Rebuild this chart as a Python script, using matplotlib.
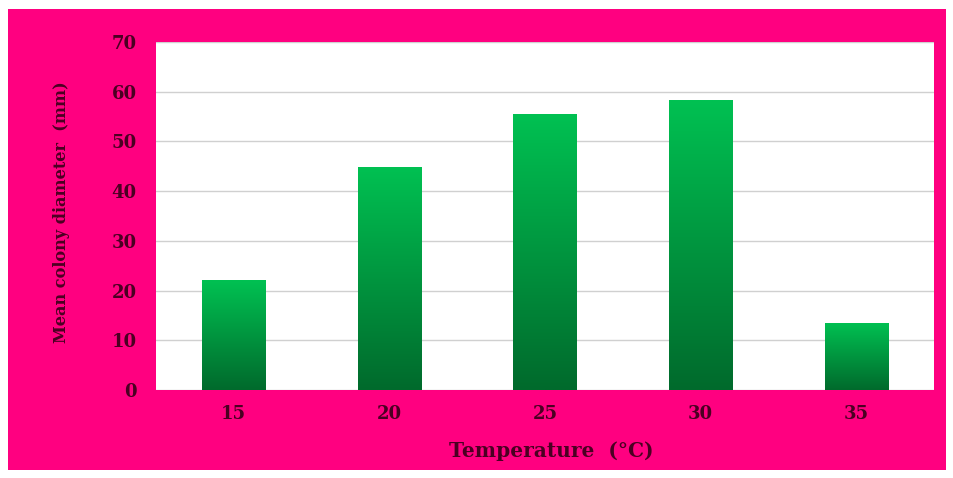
import matplotlib
matplotlib.use("Agg")
import matplotlib.pyplot as plt
import numpy as np
from matplotlib.patches import Rectangle
from matplotlib.colors import LinearSegmentedColormap

categories = ["15", "20", "25", "30", "35"]
values = [22.1, 44.9, 55.5, 58.3, 13.5]
yticks = [0, 10, 20, 30, 40, 50, 60, 70]

W, H = 954, 478
fig = plt.figure(figsize=(W / 100, H / 100), dpi=100)
fig.patch.set_facecolor("white")
pink = "#FF0080"
txt = "#4A0022"
fnt = "DejaVu Serif"
fig.patches.append(Rectangle((8 / W, 1 - 470 / H), (946 - 8) / W, (470 - 9) / H,
                             transform=fig.transFigure, facecolor=pink, edgecolor="none", zorder=-10))

ax = fig.add_axes([156 / W, 1 - 390 / H, (934 - 156) / W, (390 - 42) / H])
ax.set_zorder(1)
ax.set_facecolor("white")
x = np.arange(len(categories))
bars = ax.bar(x, values, width=0.405, facecolor="none", edgecolor="none", zorder=3)

cmap = LinearSegmentedColormap.from_list("g", ["#006A2C", "#00C152"])
grad = np.linspace(0, 1, 256).reshape(-1, 1)
for b in bars:
    x0, y0 = b.get_x(), b.get_y()
    im = ax.imshow(grad, cmap=cmap, origin="lower", aspect="auto",
                   extent=(x0, x0 + b.get_width(), y0, y0 + b.get_height()), zorder=3)
    im.set_clip_path(b)

ax.set_xlim(-0.5, len(categories) - 0.5)
ax.set_ylim(0, 70)
ax.set_yticks(yticks)
ax.set_xticks(x)
ax.set_xticklabels(categories)
ax.grid(axis="y", color="#D0D0D0", linewidth=1, zorder=0)
ax.set_axisbelow(True)
for s in ax.spines.values():
    s.set_visible(False)
ax.tick_params(length=0, colors=txt, labelsize=13)
for lab in ax.get_xticklabels() + ax.get_yticklabels():
    lab.set_fontfamily(fnt)
    lab.set_fontweight("bold")
    lab.set_color(txt)
ax.tick_params(axis="y", pad=14)
ax.tick_params(axis="x", pad=11)

fig.text(551 / W, 1 - 451 / H, "Temperature  (\u00b0C)", ha="center", va="center",
         fontsize=14.5, fontweight="bold", family=fnt, color=txt)
fig.text(62 / W, 1 - 212 / H, "Mean colony diameter  (mm)", ha="center", va="center",
         rotation=90, fontsize=11.6, fontweight="bold", family=fnt, color=txt)

fig.savefig("out.png", dpi=100, facecolor=fig.get_facecolor())
